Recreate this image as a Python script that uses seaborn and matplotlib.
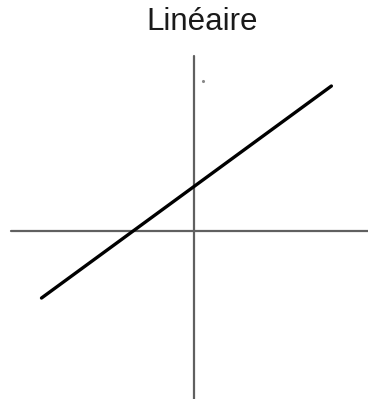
import matplotlib
matplotlib.use("Agg")
import matplotlib.pyplot as plt
import seaborn as sns
import pandas as pd

# données de la droite
x_vals = [-5.0, 4.5]
y_vals = [-2.2, 4.75]
titre = "Linéaire"

# petit point isolé près de l'axe vertical
pt_x = [0.3]
pt_y = [4.9]

sns.set_style("white")
plt.rcParams['font.family'] = ['Liberation Sans', 'DejaVu Sans']

fig = plt.figure(figsize=(3.68, 3.99), dpi=100)
ax = fig.add_axes([0, 0, 1, 1])

df = pd.DataFrame({"x": x_vals, "y": y_vals})

# axes qui se croisent à l'origine
ax.plot([-6.0, 5.8], [0, 0], color='#606060', lw=1.6, zorder=1)
ax.plot([0, 0], [-5.5, 5.75], color='#606060', lw=1.6, zorder=1)

sns.lineplot(data=df, x="x", y="y", color='black', lw=2.4, ax=ax, zorder=2)
ax.scatter(pt_x, pt_y, s=1.5, color='#888888', zorder=2)

ax.set_xlim(-6.36, 5.70)
ax.set_ylim(-5.51, 7.57)
ax.axis('off')

fig.text(202 / 368, 1 - 22 / 399, titre, ha='center', va='center',
         fontsize=22.5, color='#1a1a1a')

fig.savefig("out.png", dpi=100)
